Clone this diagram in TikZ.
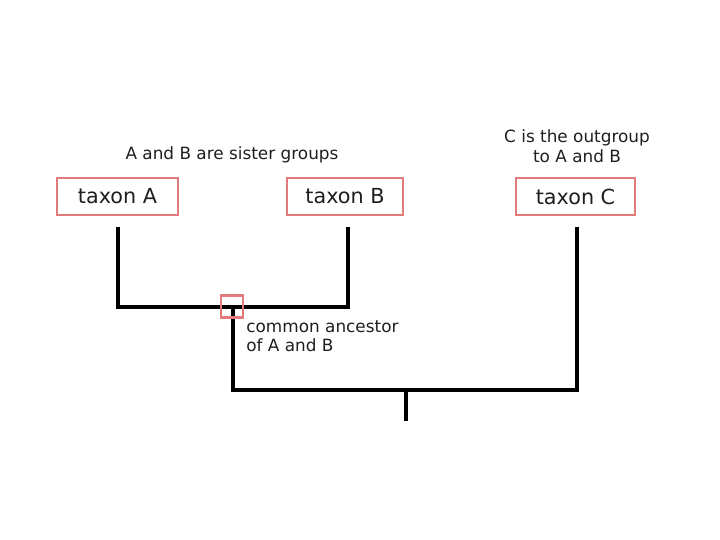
\documentclass[tikz,border=0pt]{standalone}
\usepackage{fontspec}
\setmainfont{DejaVu Sans}
\usepackage{tikz}
\usepackage{xcolor}
\definecolor{boxred}{RGB}{226,124,124}
\definecolor{inkgray}{RGB}{30,30,30}

\begin{document}
\begin{tikzpicture}[x=0.02cm,y=-0.02cm,line cap=butt,
  taxon/.style={draw=boxred,line width=1.2pt,minimum height=0.74cm,inner sep=0pt,
    text=inkgray,font=\fontsize{11.8}{14}\selectfont},
  branch/.style={line width=2.3pt,line join=miter},
  note/.style={text=inkgray,font=\fontsize{9.6}{11.2}\selectfont,inner sep=0pt}]
\useasboundingbox (0,0) rectangle (720,540);
% taxa
\node[taxon,minimum width=2.42cm] (tA) at (117.5,196.5) {taxon A};
\node[taxon,minimum width=2.32cm] (tB) at (345,196.5) {taxon B};
\node[taxon,minimum width=2.38cm] (tC) at (575.5,196.5) {taxon C};
% notes
\node[note] (sister) at (232,155) {A and B are sister groups};
\node[note,align=center] (outgrp) at (577,146) {C is the outgroup\\to A and B};
% tree
\coordinate (aTop) at (118,227);
\coordinate (bTop) at (348,227);
\coordinate (cTop) at (577,227);
\coordinate (jAB) at (233,307);
\coordinate (root) at (406,390);
\coordinate (rootEnd) at (406,421);
\draw[branch] (aTop) |- (jAB) -| (bTop);
\draw[branch] (jAB) |- (root) -| (cTop);
\draw[branch] (root) -- (rootEnd);
% ancestor
\node[draw=boxred,line width=1.2pt,minimum size=0.44cm,inner sep=0pt] (anc) at (232,306.5) {};
\node[note,align=left,anchor=north west] (ancnote) at (246,320) {common ancestor\\of A and B};
\end{tikzpicture}
\end{document}
